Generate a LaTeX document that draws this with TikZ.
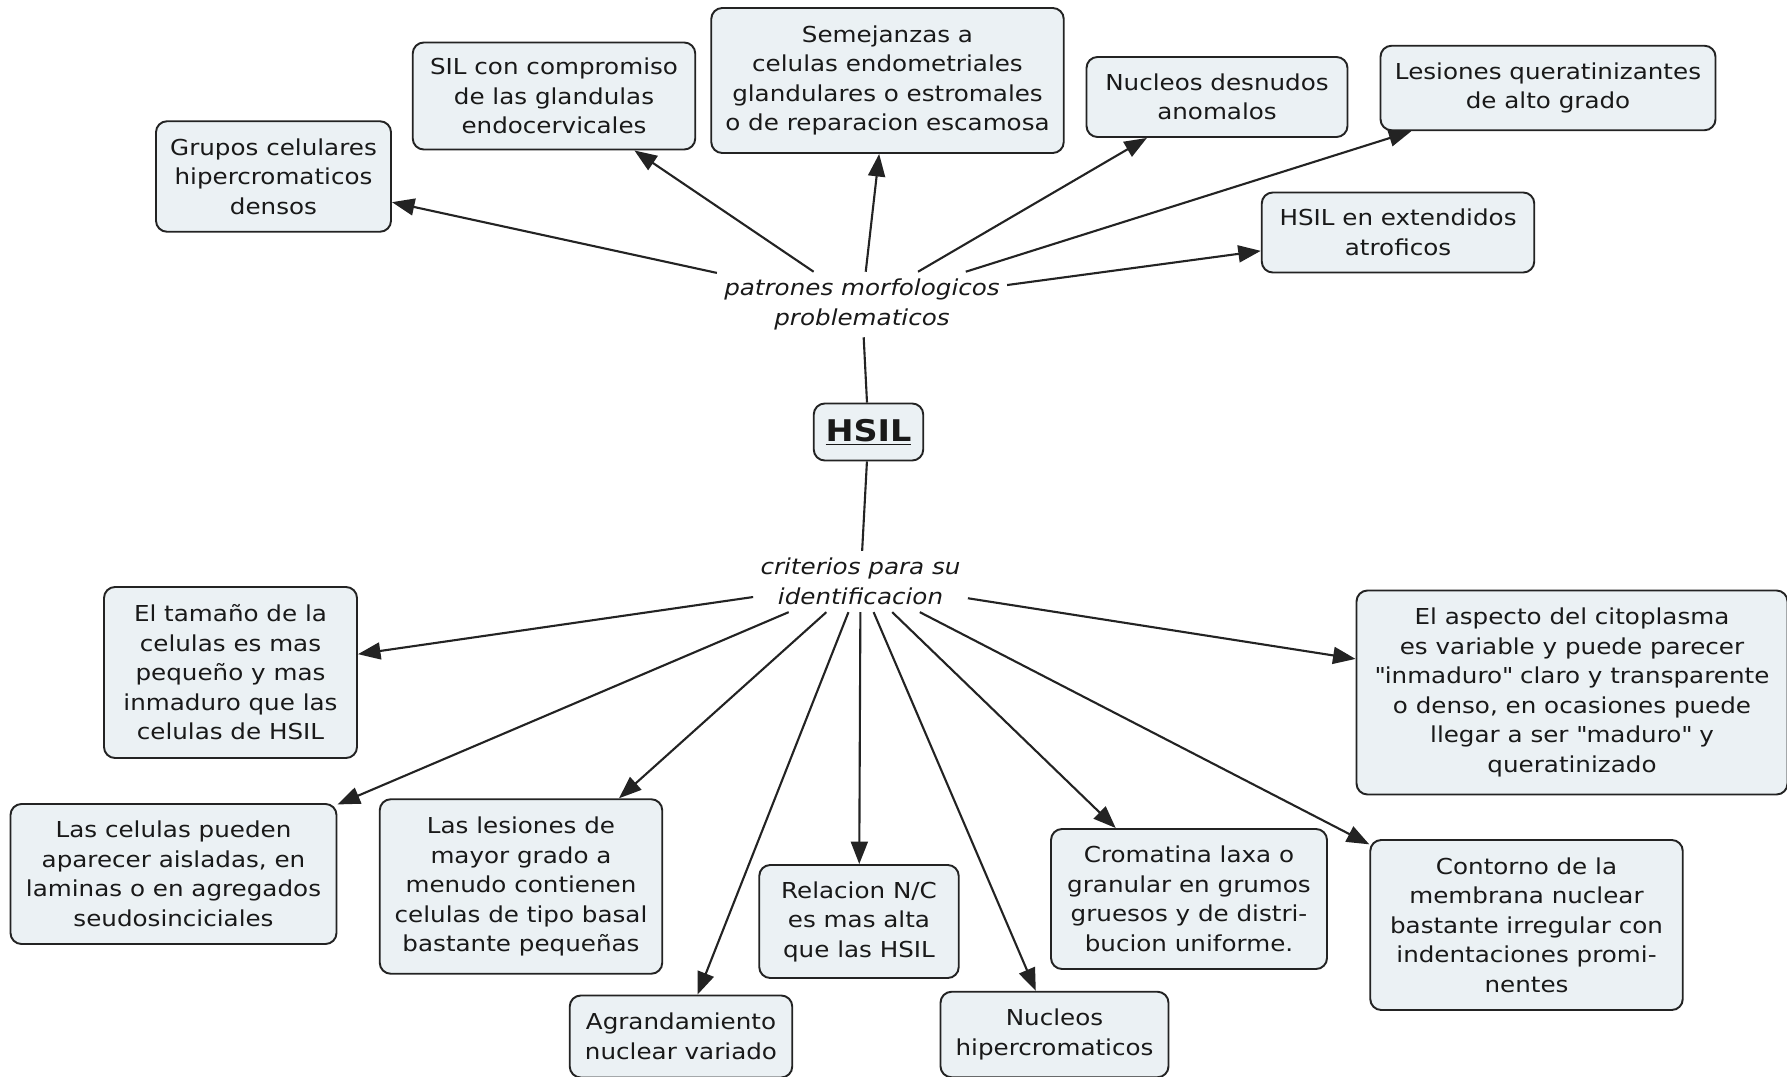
\documentclass[tikz,border=0pt]{standalone}
\usepackage{fontspec}
\setmainfont{DejaVu Sans}[FakeStretch=1.12]
\usetikzlibrary{positioning,arrows.meta}
\definecolor{boxfill}{RGB}{235,241,244}
\definecolor{boxline}{RGB}{35,35,35}

\begin{document}
\begin{tikzpicture}[>={Triangle[length=0.45cm,width=0.34cm]}]
	\useasboundingbox (0,0) rectangle (35.74,-21.54);
	\tikzstyle{every node}=[align=center, text=black!90, font=\fontsize{12.5}{16.8}\selectfont]
	\tikzstyle{concept}=[draw=boxline, fill=boxfill, line width=1.1pt, rounded corners=0.22cm, inner sep=2pt]
	\tikzstyle{linkword}=[font=\fontsize{12.5}{16.8}\selectfont\itshape, inner sep=4pt]
	\tikzstyle{link}=[line width=1.2pt, draw=boxline]

	% centre
	\node[concept, minimum width=2.19cm, minimum height=1.14cm] (hsil) at (17.37,-8.64) {\fontsize{17}{20}\selectfont\bfseries\underline{HSIL}};
	\node[linkword] (patrones) at (17.24,-6.09) {patrones morfologicos\\problematicos};
	\node[linkword] (criterios) at (17.21,-11.63) {criterios para su\\identificacion};

	% patrones morfologicos
	\node[concept, minimum width=4.70cm, minimum height=2.21cm] (grupos) at (5.47,-3.53) {Grupos celulares\\hipercromaticos\\densos};
	\node[concept, minimum width=5.65cm, minimum height=2.14cm] (sil) at (11.08,-1.92) {SIL con compromiso\\de las glandulas\\endocervicales};
	\node[concept, minimum width=7.05cm, minimum height=2.90cm] (semej) at (17.75,-1.61) {Semejanzas a\\celulas endometriales\\glandulares o estromales\\o de reparacion escamosa};
	\node[concept, minimum width=5.22cm, minimum height=1.60cm] (desnudos) at (24.34,-1.94) {Nucleos desnudos\\anomalos};
	\node[concept, minimum width=6.70cm, minimum height=1.69cm] (querat) at (30.96,-1.76) {Lesiones queratinizantes\\de alto grado};
	\node[concept, minimum width=5.45cm, minimum height=1.60cm] (atrof) at (27.96,-4.65) {HSIL en extendidos\\atroficos};

	% criterios
	\node[concept, minimum width=5.06cm, minimum height=3.42cm] (tamano) at (4.61,-13.45) {El tamaño de la\\celulas es mas\\pequeño y mas\\inmaduro que las\\celulas de HSIL};
	\node[concept, minimum width=8.62cm, minimum height=4.08cm] (aspecto) at (31.44,-13.85) {El aspecto del citoplasma\\es variable y puede parecer\\\textquotedbl inmaduro\textquotedbl{} claro y transparente\\o denso, en ocasiones puede\\llegar a ser \textquotedbl maduro\textquotedbl{} y\\queratinizado};
	\node[concept, minimum width=6.52cm, minimum height=2.80cm] (aisladas) at (3.47,-17.48) {Las celulas pueden\\aparecer aisladas, en\\laminas o en agregados\\seudosinciciales};
	\node[concept, minimum width=5.65cm, minimum height=3.49cm] (basal) at (10.42,-17.73) {Las lesiones de\\mayor grado a\\menudo contienen\\celulas de tipo basal\\bastante pequeñas};
	\node[concept, minimum width=4.45cm, minimum height=1.64cm] (agrand) at (13.62,-20.73) {Agrandamiento\\nuclear variado};
	\node[concept, minimum width=3.99cm, minimum height=2.26cm] (relacion) at (17.18,-18.43) {Relacion N/C\\es mas alta\\que las HSIL};
	\node[concept, minimum width=4.56cm, minimum height=1.71cm] (hipercrom) at (21.09,-20.69) {Nucleos\\hipercromaticos};
	\node[concept, minimum width=5.52cm, minimum height=2.80cm] (cromatina) at (23.78,-17.98) {Cromatina laxa o\\granular en grumos\\gruesos y de distri-\\bucion uniforme.};
	\node[concept, minimum width=6.25cm, minimum height=3.40cm] (contorno) at (30.53,-18.50) {Contorno de la\\membrana nuclear\\bastante irregular con\\indentaciones promi-\\nentes};

	\draw[link] (patrones) to (hsil);
	\draw[link] (hsil) to (criterios);

	\draw[link, ->] (patrones) to (grupos);
	\draw[link, ->] (patrones) to (sil);
	\draw[link, ->] (patrones) to (semej);
	\draw[link, ->] (patrones) to (desnudos);
	\draw[link, ->] (patrones) to (querat);
	\draw[link, ->] (patrones) to (atrof);

	\draw[link, ->] (criterios) to (tamano);
	\draw[link, ->] (criterios) to (aisladas);
	\draw[link, ->] (criterios) to (basal);
	\draw[link, ->] (criterios) to (agrand);
	\draw[link, ->] (criterios) to (relacion);
	\draw[link, ->] (criterios) to (hipercrom);
	\draw[link, ->] (criterios) to (cromatina);
	\draw[link, ->] (criterios) to (contorno);
	\draw[link, ->] (criterios) to (aspecto);
\end{tikzpicture}
\end{document}
